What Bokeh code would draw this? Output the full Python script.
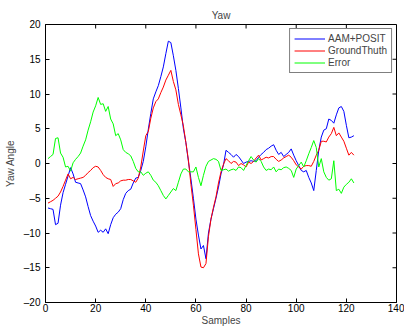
import math
from bokeh.plotting import figure
from bokeh.models import Range1d, LinearAxis, FixedTicker, CustomJSTickFormatter, Legend, LegendItem
from bokeh.embed import file_html
from bokeh.resources import INLINE

samples = list(range(1, 124))

aam_posit = [
    -6.4, -6.5, -6.6, -8.8, -8.6, -6.0, -4.2, -3.0, -1.8, -0.6,
    -1.5, -2.7, -2.8, -2.9, -3.8, -4.8, -6.2, -7.5, -8.3, -9.0,
    -9.9, -9.6, -9.9, -9.4, -10.1, -8.8, -7.8, -7.3, -7.0, -6.5,
    -5.2, -4.3, -3.9, -3.7, -2.8, -2.1, -2.0, -1.0, 0.3, 2.4,
    4.9, 7.2, 9.3, 10.3, 11.2, 12.5, 13.9, 15.8, 17.6, 17.4,
    15.5, 13.4, 10.8, 8.0, 5.0, 3.0, 0.3, -2.2, -5.0, -8.0,
    -10.3, -12.3, -11.8, -13.7, -10.0, -8.0, -6.5, -5.0, -3.4, -1.5,
    -0.2, 1.9, 1.6, 1.3, 0.9, 1.3, 1.0, 0.5, 0.0, 0.2,
    0.3, 0.4, 0.3, 0.4, 0.9, 1.3, 1.6, 2.0, 2.2, 2.5,
    2.7, 1.9, 1.3, 1.6, 1.0, 1.3, 1.6, 2.1, 1.2, 0.4,
    -0.3, -1.0, -1.2, -1.0, -2.0, -2.8, -3.9, -1.0, 1.9, 3.8,
    4.8, 5.0, 6.4, 6.2, 5.8, 7.0, 8.0, 8.2, 7.5, 5.5,
    3.7, 3.8, 4.0,
]

ground_truth = [
    -5.7, -5.5, -5.3, -5.0, -4.7, -4.1, -3.3, -2.4, -1.5, -2.2,
    -2.0, -2.3, -2.2, -2.1, -2.0, -1.7, -1.3, -1.0, -0.6, -0.4,
    -0.5, -1.0, -1.6, -2.0, -2.2, -2.3, -3.3, -2.9, -2.8, -2.5,
    -2.4, -2.4, -2.3, -2.3, -2.5, -2.7, -2.1, -0.5, 1.8, 4.0,
    4.6, 6.5, 8.0, 8.9, 9.3, 10.2, 11.0, 12.0, 12.7, 13.4,
    11.8, 10.6, 8.5, 7.0, 5.4, 3.0, 0.5, -3.0, -6.0, -9.5,
    -13.0, -14.9, -15.0, -14.4, -10.5, -8.0, -6.3, -4.8, -2.8, -1.2,
    -0.1, 0.7, 0.4, 0.0, 0.3, 0.2, -0.3, 0.0, -0.2, -0.5,
    0.2, 0.0, 0.3, 0.8, 1.2, 0.5, 0.7, 0.9, 0.8, 1.0,
    1.0, 0.6, 0.3, 0.5, 0.8, 1.0, 1.2, 0.9, 0.4, -0.2,
    -0.5, -0.8, -0.4, -0.3, -0.3, -0.4, 0.3, 1.2, 1.9, 3.2,
    3.2, 3.1, 3.8, 4.3, 5.2, 4.0, 4.4, 3.8, 3.2, 2.2,
    1.2, 1.6, 1.2,
]

error = [
    0.7, 1.0, 1.3, 3.6, 3.7, 1.5, 0.9, -0.5, -0.4, -1.1,
    0.1, 0.6, 1.0, 1.5, 2.5, 3.4, 4.8, 6.0, 7.4, 8.3,
    9.5, 8.5, 8.6, 7.5, 8.2, 6.4, 5.7, 4.0, 4.3, 3.4,
    2.0, 1.6, 1.4, 1.1, 0.3, -0.7, -1.2, -1.2, -1.7, -1.4,
    -1.2, -1.7, -2.4, -2.7, -3.2, -3.9, -4.6, -5.1, -4.6, -4.1,
    -3.6, -3.9, -2.7, -1.5, -0.8, -0.8, -1.2, -1.2, -1.2, -0.5,
    -2.0, -3.2, -1.7, -0.4, 0.3, 0.5, 0.7, 0.6, 0.3, -1.0,
    -0.9, -0.8, -1.1, -0.9, -0.8, -1.0, -0.5, -0.6, -1.0, -0.3,
    0.4, 1.0, 0.5, 0.2, 0.7, 0.3, -0.5, -1.0, -0.8, -0.9,
    -0.5, -1.2, -0.8, -0.9, -0.6, -0.5, -0.7, -1.0, -2.0, -0.8,
    -0.3, 0.2, -0.5, 0.4, 1.4, 2.3, 3.3, 2.3, -0.5, 0.7,
    -1.2, -2.0, -2.4, -2.2, 0.4, -3.9, -3.7, -4.3, -3.4, -3.0,
    -2.7, -2.2, -2.8,
]

x_ticks = [0, 20, 40, 60, 80, 100, 120, 140]
y_ticks = [-20, -15, -10, -5, 0, 5, 10, 15, 20]
x_lim = (0, 140)
y_lim = (-20, 20)

FONT = "Liberation Sans"

p = figure(width=404, height=328, output_backend="svg", toolbar_location=None,
           x_range=Range1d(*x_lim), y_range=Range1d(*y_lim),
           x_axis_type=None, y_axis_type=None,
           min_border_left=45, min_border_right=8, min_border_top=24, min_border_bottom=26)
p.title.text = "Yaw"
p.title.align = "center"
p.title.text_font = FONT
p.title.text_font_size = "10px"
p.title.text_font_style = "normal"
p.title.standoff = 7
p.xgrid.visible = False
p.ygrid.visible = False
p.outline_line_color = "black"
p.outline_line_width = 1
p.background_fill_color = "white"
p.border_fill_color = "white"

minus_fmt = CustomJSTickFormatter(code="return tick < 0 ? '\u2013' + Math.abs(tick) : String(tick);")

def style_axis(ax):
    ax.axis_line_color = "black"
    ax.major_tick_line_color = "black"
    ax.major_tick_in = 4
    ax.major_tick_out = 0
    ax.minor_tick_line_color = None
    ax.major_label_text_font = FONT
    ax.major_label_text_font_size = "10px"
    ax.major_label_text_color = "black"
    ax.axis_label_text_font = FONT
    ax.axis_label_text_font_size = "10px"
    ax.axis_label_text_font_style = "normal"

xb = LinearAxis(ticker=FixedTicker(ticks=x_ticks), axis_label="Samples")
style_axis(xb)
xb.major_label_standoff = 1
xb.axis_label_standoff = 0
p.add_layout(xb, "below")

yl = LinearAxis(ticker=FixedTicker(ticks=y_ticks), axis_label="Yaw Angle", formatter=minus_fmt)
style_axis(yl)
yl.major_label_standoff = 5
yl.axis_label_standoff = 5
p.add_layout(yl, "left")

# inward ticks on the top and right edges of the box (MATLAB style)
p.ray(x=x_ticks, y=[y_lim[1]] * len(x_ticks), length=4, length_units="screen",
      angle=-math.pi / 2, line_color="black", line_width=1)
p.ray(x=[x_lim[1]] * len(y_ticks), y=y_ticks, length=4, length_units="screen",
      angle=math.pi, line_color="black", line_width=1)

r1 = p.line(samples, aam_posit, line_color="#0000ff", line_width=1)
r2 = p.line(samples, ground_truth, line_color="#ff0000", line_width=1)
r3 = p.line(samples, error, line_color="#00ff00", line_width=1)

legend = Legend(items=[LegendItem(label="AAM+POSIT", renderers=[r1]),
                       LegendItem(label="GroundThuth", renderers=[r2]),
                       LegendItem(label="Error", renderers=[r3])],
                location="top_right")
legend.label_text_font = FONT
legend.label_text_font_size = "10px"
legend.label_height = 11
legend.glyph_height = 11
legend.glyph_width = 31
legend.label_standoff = 3
legend.spacing = 1
legend.padding = 4
legend.margin = 4
legend.border_line_color = "black"
legend.border_line_width = 1.5
legend.background_fill_alpha = 1
p.add_layout(legend, "center")

open("out.html", "w").write(file_html(p, INLINE))
